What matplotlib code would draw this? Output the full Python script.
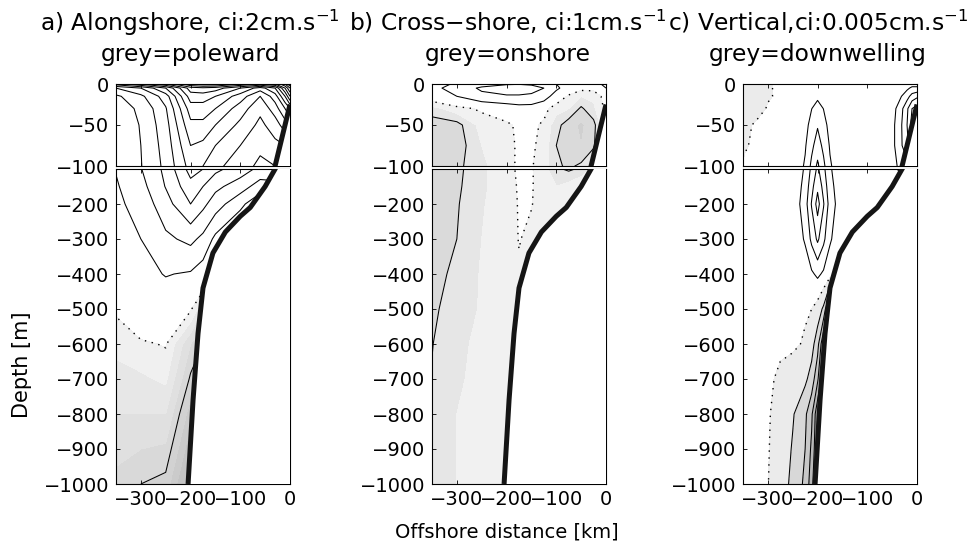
import numpy as np
import matplotlib.pyplot as plt

plt.rcParams['font.family'] = ['DejaVu Sans']

# depth levels of the sections (m)
z = [0, -5, -15, -30, -50, -75, -100, -150, -200, -300, -400, -500, -600, -700, -800, -900, -1000]

# bottom profile (km, m)
bottom_x = [0, -10, -20, -30, -50, -80, -100, -130, -155, -175, -185, -195, -205]
bottom_z = [-25, -50, -75, -100, -150, -210, -235, -280, -340, -440, -570, -760, -1000]

# a) alongshore velocity (cm/s), positive = equatorward
x_a = [-350, -300, -250, -200, -175, -150, -100, -60, -30, -10, 0]
u_along = [
    [11, 14, 18, 24, 25, 25, 22, 20, 22, 26, 30],
    [6, 8, 12, 19, 19.5, 19, 16, 13, 16, 22, 26],
    [3.6, 5.5, 9, 17, 17, 16, 13, 10, 13, 18, 22],
    [3.2, 4.3, 7.8, 15, 15, 14, 11, 8.5, 11, 14, 16],
    [2.8, 4.1, 7.2, 13.5, 13.5, 12, 9.5, 7.5, 9, 11, 12],
    [2.4, 4.0, 6.8, 12, 11.5, 10, 8, 6.5, 7.5, 8, 9],
    [2.1, 3.9, 6.5, 10.8, 10, 8.5, 7, 5.5, 6, 6, 6],
    [1.8, 3.3, 6.1, 9.3, 8, 6.5, 5, 3, 3, 3, 3],
    [1.6, 2.7, 5.2, 8.0, 6.5, 5, 2.5, 0.5, 0.5, 0.5, 0.5],
    [1.0, 2.0, 3.6, 4.5, 3.5, 1.5, -0.3, -0.3, -0.3, -0.3, -0.3],
    [0.6, 1.4, 2.1, 1.8, 1.0, -0.3, -0.3, -0.3, -0.3, -0.3, -0.3],
    [0.1, 0.7, 0.9, 0.1, -1, -1, -1, -1, -1, -1, -1],
    [-0.35, -0.1, 0.05, -1.5, -2, -2, -2, -2, -2, -2, -2],
    [-0.7, -0.6, -0.4, -2.1, -2.6, -2.6, -2.6, -2.6, -2.6, -2.6, -2.6],
    [-1.0, -1.0, -1.0, -2.8, -3, -3, -3, -3, -3, -3, -3],
    [-1.3, -1.5, -1.6, -3.4, -3.5, -3.5, -3.5, -3.5, -3.5, -3.5, -3.5],
    [-1.7, -2.0, -2.2, -4.0, -4, -4, -4, -4, -4, -4, -4],
]

# b) cross-shore velocity (cm/s), positive = offshore
x_b = [-350, -300, -250, -200, -175, -150, -125, -100, -75, -50, -25, -10, 0]
v_cross = [
    [0.7, 1.1, 1.5, 1.9, 1.95, 1.85, 1.5, 1.0, 0.5, 0.2, 0.5, 1.0, 1.5],
    [0.8, 1.3, 2.2, 2.5, 2.5, 2.4, 2.0, 1.2, 0.5, 0.2, 0.2, 0.5, 1.0],
    [0.5, 1.0, 1.7, 1.9, 1.9, 1.8, 1.5, 0.5, -0.1, -0.5, -0.4, 0.0, 0.3],
    [-0.7, -0.2, 0.1, 0.4, 0.6, 0.6, 0.2, -0.3, -0.5, -1.1, -0.6, -0.2, 0.2],
    [-1.3, -1.2, -0.3, -0.1, 0.1, 0.15, -0.1, -0.8, -1.3, -1.6, -1.2, -0.4, 0],
    [-1.5, -1.3, -0.5, -0.2, 0.1, 0.1, -0.2, -1.0, -1.4, -1.5, -1.1, -0.3, 0],
    [-1.5, -1.15, -0.6, -0.2, 0.1, 0.05, -0.3, -0.9, -1.1, -0.9, -0.4, 0, 0],
    [-1.45, -1.1, -0.6, -0.2, 0.05, 0.05, -0.3, -0.5, -0.3, 0, 0, 0, 0],
    [-1.4, -1.05, -0.55, -0.2, 0.03, 0.02, -0.2, -0.2, 0, 0, 0, 0, 0],
    [-1.25, -1.0, -0.5, -0.25, 0.02, -0.1, 0, 0, 0, 0, 0, 0, 0],
    [-1.15, -0.9, -0.45, -0.25, -0.05, -0.1, 0, 0, 0, 0, 0, 0, 0],
    [-1.1, -0.75, -0.45, -0.25, -0.1, -0.1, 0, 0, 0, 0, 0, 0, 0],
    [-1.02, -0.6, -0.4, -0.25, -0.1, -0.1, 0, 0, 0, 0, 0, 0, 0],
    [-0.97, -0.55, -0.4, -0.25, -0.1, -0.1, 0, 0, 0, 0, 0, 0, 0],
    [-0.95, -0.5, -0.4, -0.25, -0.1, -0.1, 0, 0, 0, 0, 0, 0, 0],
    [-0.93, -0.5, -0.4, -0.25, -0.1, -0.1, 0, 0, 0, 0, 0, 0, 0],
    [-0.92, -0.5, -0.4, -0.25, -0.1, -0.1, 0, 0, 0, 0, 0, 0, 0],
]

# c) vertical velocity (1e-3 cm/s), positive = upward
x_c = [-350, -325, -300, -275, -250, -225, -212, -200, -188, -175,
       -150, -125, -100, -75, -50, -35, -20, -10, 0]
w_vert = [
    [-3, -2.5, -0.3, 0.5, 0.5, 0.6, 0.8, 1, 0.8, 0.6, 0.5, 0.5, 0.5, 0.5, 0.5, 1, 2, 3, 3],
    [-3, -2.5, -0.3, 0.5, 0.5, 0.8, 1.4, 2, 1.4, 0.8, 0.5, 0.5, 0.5, 0.5, 1, 2, 4, 6, 6],
    [-3, -2.5, -0.3, 0.5, 0.6, 1.5, 2.8, 4, 2.8, 1.5, 0.6, 0.5, 0.5, 0.5, 2, 4, 8, 12, 14],
    [-2.5, -1.5, 0.3, 0.5, 0.7, 2.6, 4.9, 7, 4.9, 2.6, 0.7, 0.5, 0.5, 0.5, 3, 7, 14, 20, 22],
    [-1, 0.4, 0.5, 0.5, 0.8, 3.5, 6.6, 9.5, 6.6, 3.5, 0.8, 0.5, 0.5, 0.5, 3.5, 8, 15, 22, 22],
    [-0.4, 0.5, 0.5, 0.5, 1.0, 4.5, 8.7, 12.5, 8.7, 4.5, 1.0, 0.5, 0.5, 0.5, 3.5, 8, 14, 18, 18],
    [0.3, 0.5, 0.5, 0.5, 1.2, 5.6, 11.2, 16, 11.2, 5.6, 1.2, 0.5, 0.5, 0.5, 3, 6, 8, 8, 8],
    [0.5, 0.5, 0.5, 0.5, 1.4, 6.6, 13.3, 19, 13.3, 6.6, 1.4, 0.5, 0.5, 0.5, 0.5, 0.5, 0.5, 0.5, 0.5],
    [0.5, 0.5, 0.5, 0.5, 1.5, 7.7, 15.4, 22, 15.4, 7.7, 1.5, 0.5, 0.5, 0.5, 0.5, 0.5, 0.5, 0.5, 0.5],
    [0.5, 0.5, 0.5, 0.5, 1.2, 5.6, 11.2, 16, 11.2, 5.6, 1.2, 0.5, 0.5, 0.5, 0.5, 0.5, 0.5, 0.5, 0.5],
    [0.5, 0.5, 0.5, 0.5, 0.6, 2.1, 4.2, 6, 4.2, 2.1, 0.6, 0.5, 0.5, 0.5, 0.5, 0.5, 0.5, 0.5, 0.5],
    [0.5, 0.5, 0.5, 0.5, 0.5, 0.3, 0, -2, -6, -20, -30, -30, -30, -30, -30, -30, -30, -30, -30],
    [0.5, 0.5, 0.5, 0.5, 0.5, -0.3, -3, -8, -20, -30, -30, -30, -30, -30, -30, -30, -30, -30, -30],
    [0.5, 0.5, 0.5, -0.5, -1.5, -4, -7, -14, -25, -30, -30, -30, -30, -30, -30, -30, -30, -30, -30],
    [0.5, 0.5, 0.3, -1.2, -4.5, -9, -14, -24, -30, -30, -30, -30, -30, -30, -30, -30, -30, -30, -30],
    [0.5, 0.5, 0.2, -1.5, -5.5, -10, -16, -25, -30, -30, -30, -30, -30, -30, -30, -30, -30, -30, -30],
    [0.5, 0.5, 0.1, -2, -6.5, -11, -18, -28, -30, -30, -30, -30, -30, -30, -30, -30, -30, -30, -30],
]

titles = ['a) Alongshore, ci:2cm.s$^{-1}$',
          'b) Cross\u2212shore, ci:1cm.s$^{-1}$',
          'c) Vertical,ci:0.005cm.s$^{-1}$']
subtitles = ['grey=poleward', 'grey=onshore', 'grey=downwelling']


def draw_section(axs, x, field, fill_levels, fill_colors, step, nmax):
    X, Z = np.meshgrid(x, z)
    F = np.array(field, dtype=float)
    lines = [l for l in np.arange(-nmax, nmax + step / 2, step) if abs(l) > 1e-9]
    for ax in axs:
        ax.contourf(X, Z, F, levels=fill_levels, colors=fill_colors)
        ax.contour(X, Z, F, levels=lines, colors='k', linewidths=0.75,
                   linestyles='solid')
        ax.contour(X, Z, F, levels=[0], colors='k', linewidths=1.0,
                   linestyles=[(0, (1, 4))])
        # land below the slope
        ax.fill(bottom_x + [0], bottom_z + [-1000], color='white', zorder=3)
        ax.plot(bottom_x, bottom_z, color='#151515', lw=3.6, zorder=4,
                solid_capstyle='butt')


fig = plt.figure(figsize=(9.72, 5.46), dpi=100)

lefts = [116 / 972, 432 / 972, 743 / 972]
width = 174 / 972
axes = []
for left in lefts:
    ax_top = fig.add_axes([left, 380 / 546, width, 82 / 546])
    ax_bot = fig.add_axes([left, 62 / 546, width, 315 / 546])
    for ax in (ax_top, ax_bot):
        ax.set_xlim(-350, 0)
        ax.set_xticks([-300, -200, -100, 0])
        ax.tick_params(direction='in', top=True, right=True, length=3,
                       width=0.6, labelsize=14, pad=5)
        for s in ax.spines.values():
            s.set_linewidth(0.8)
    ax_top.set_ylim(-100, 0)
    ax_top.set_yticks([-100, -50, 0])
    ax_top.tick_params(labelbottom=False)
    ax_bot.set_ylim(-1000, -100)
    ax_bot.set_yticks(np.arange(-1000, -100, 100))
    ax_bot.tick_params(axis='x', pad=4)
    axes.append((ax_top, ax_bot))

draw_section(axes[0], x_a, u_along,
             [-20, -3, -2.5, -2, -1.5, -1, -0.5, 0],
             ['#c4c4c4', '#cbcbcb', '#d2d2d2', '#d9d9d9', '#e0e0e0', '#e7e7e7', '#f0f0f0'],
             2, 40)
draw_section(axes[1], x_b, v_cross,
             [-5, -1.5, -1, -0.5, 0],
             ['#d0d0d0', '#dadada', '#e6e6e6', '#f1f1f1'],
             1, 5)
draw_section(axes[2], x_c, w_vert,
             [-100, -20, -15, -10, -5, 0],
             ['#a9a9a9', '#b9b9b9', '#c8c8c8', '#d8d8d8', '#ebebeb'],
             5, 30)

centers = [190 / 972, 508 / 972, 818 / 972]
for cx, t, s in zip(centers, titles, subtitles):
    fig.text(cx, 1 - 31 / 546, t, ha='center', va='baseline', fontsize=16.8)
    fig.text(cx, 1 - 61 / 546, s, ha='center', va='baseline', fontsize=16.8)

fig.text(22 / 972, 1 - 365 / 546, 'Depth [m]', rotation=90, ha='center',
         va='center', fontsize=15)
fig.text(507 / 972, 1 - 532 / 546, 'Offshore distance [km]', ha='center',
         va='center', fontsize=14)

fig.savefig('out.png', dpi=100)
